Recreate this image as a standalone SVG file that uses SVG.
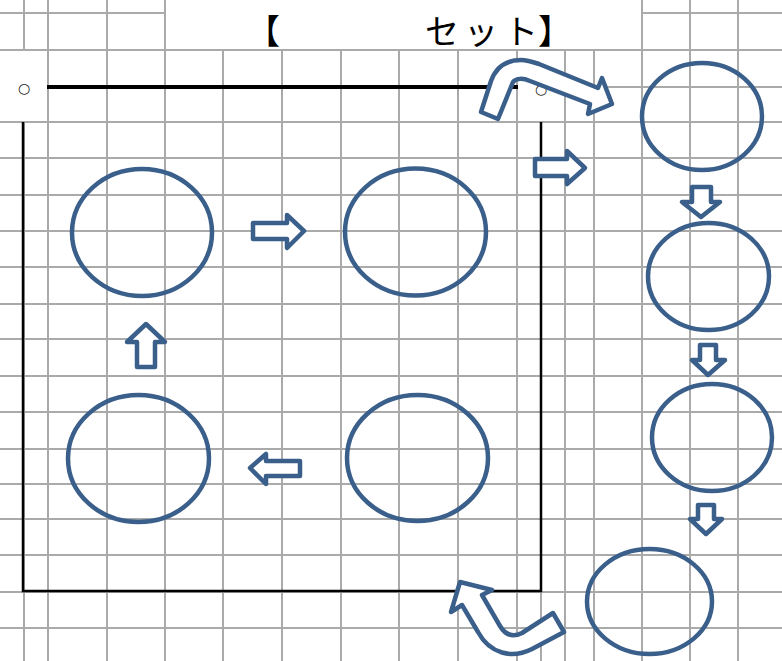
<svg xmlns="http://www.w3.org/2000/svg" width="782" height="661" viewBox="0 0 782 661">
<style>
.grid{stroke:#aaaaaa;stroke-width:2;fill:none}
.frame{stroke:#000;fill:none}
.node{fill:none;stroke:#3a5f8b;stroke-width:4.5}
.arr{fill:#fff;stroke:#3a5f8b;stroke-width:4.5;stroke-linejoin:round}
.title{font-family:"Noto Sans CJK JP","Noto Sans",sans-serif;font-size:34px;fill:#000}
.mark{font-family:"DejaVu Sans","Noto Sans CJK JP",sans-serif;font-size:14px;fill:#222}
</style>
<rect width="782" height="661" fill="#fff"/>
<g id="grid" class="grid">
<path d="M24,0V50M24,122V661M48,0V661M107,0V661M165,0V661M223,50V661M282,50V661M341,50V661M399,50V661M458,50V661M517,50V661M541,122V661M565,50V661M594,50V661M642,0V661M690,0V661M738,0V661"/>
<path d="M0,13H165M642,13H782M0,50H782M565,87H782M0,122H782M0,158H782M0,195H782M0,231H782M0,267H782M0,304H782M0,339H782M0,376H782M0,412H782M0,449H782M0,484H782M0,519H782M0,555H782M0,592H782M0,628H782"/>
</g>
<g id="frame" class="frame">
<path d="M47,87H518" stroke-width="4"/>
<path d="M23,122V591H541V122" stroke-width="2.5"/>
</g>
<g id="title">
<text class="title" x="246 280 316 352 388 425 464 504 538" y="44">【　　　　セット】</text>
</g>
<g id="marks">
<text class="mark" x="24" y="93" text-anchor="middle">○</text>
<text class="mark" x="541" y="94" text-anchor="middle">○</text>
</g>
<g id="node1"><ellipse class="node" cx="142" cy="232.5" rx="70" ry="63.5"/></g>
<g id="node2"><ellipse class="node" cx="415.5" cy="232" rx="70.5" ry="63.5"/></g>
<g id="node3"><ellipse class="node" cx="417.5" cy="458" rx="70.5" ry="63"/></g>
<g id="node4"><ellipse class="node" cx="138.5" cy="458.5" rx="70.5" ry="63.5"/></g>
<g id="node5"><ellipse class="node" cx="702" cy="116.5" rx="60" ry="53.5"/></g>
<g id="node6"><ellipse class="node" cx="708.5" cy="276.5" rx="60.5" ry="53.5"/></g>
<g id="node7"><ellipse class="node" cx="712" cy="437.5" rx="60" ry="53.5"/></g>
<g id="node8"><ellipse class="node" cx="649.5" cy="601.5" rx="62.5" ry="52.5"/></g>
<g id="connectors">
<polygon class="arr" points="253,223 287,223 287,215 304,231 287,248 287,239 253,239"/>
<polygon class="arr" points="535,159 567,159 567,151 585,168 567,184 567,176 535,176"/>
<polygon class="arr" points="146,324 165,342 155,342 155,367 137,367 137,342 127,342"/>
<polygon class="arr" points="250,468 266,454 266,461 300,461 300,476 266,476 266,484"/>
<polygon class="arr" points="692,187 711,187 711,202 720,202 701,217 682,202 692,202"/>
<polygon class="arr" points="700,345 716,345 716,360 725,360 708,375 692,360 700,360"/>
<polygon class="arr" points="698,505 714,505 714,519 722,519 706,534 690,519 698,519"/>
<path class="arr" d="M481,112 L491,81 C496,67 506,60 521,60 C527,60 533,62 539,64 L598,88 L602,78 L612,104 L588,114 L590,104 L530,81 C523,78 516,78 513,82 L498,119 Z"/>
<path class="arr" d="M460,582 L492,590 L482,595 L500,626 C506,636 514,637 522,633 L553,613 L564,632 L532,649 C512,659 490,654 478,632 L462,605 L451,612 Z"/>
</g>
</svg>
